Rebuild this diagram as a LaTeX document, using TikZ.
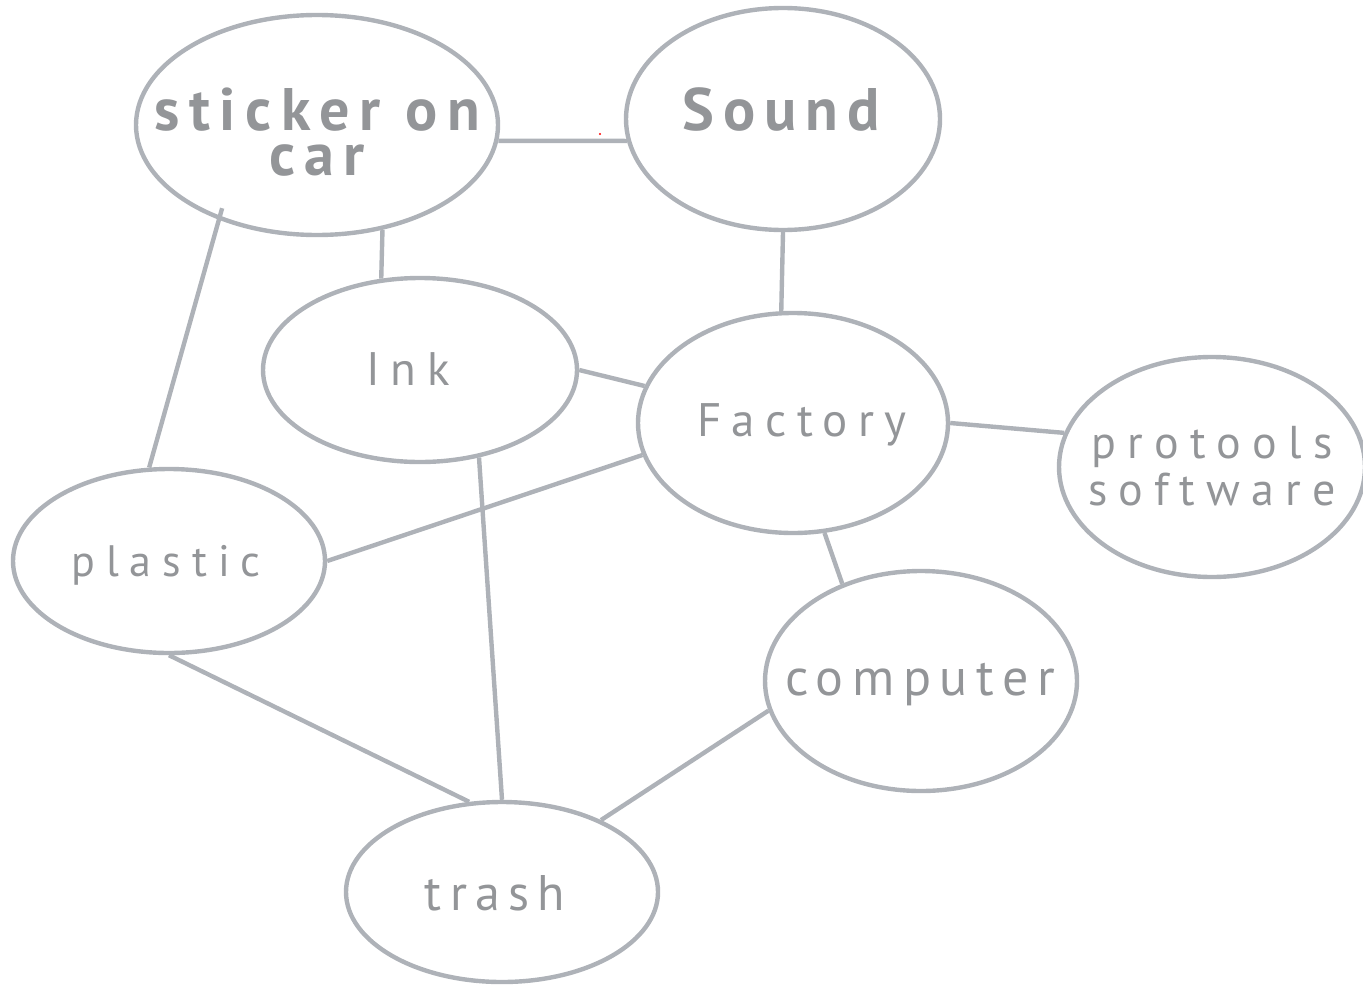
\documentclass[tikz,border=0pt]{standalone}
\usepackage{fontspec}
\setmainfont{PT Sans}
\newfontfamily\lblfont[LetterSpace=20]{PT Sans}
\newfontfamily\boldlbl[LetterSpace=16]{PT Sans Bold}
\usetikzlibrary{shapes.geometric}
\definecolor{txtgray}{HTML}{939598}
\definecolor{edgegray}{HTML}{AEB2B8}
\begin{document}
\begin{tikzpicture}[x=0.5pt,y=-0.5pt,
  bubble/.style={draw=edgegray, line width=2.2pt, ellipse, inner sep=0pt},
  link/.style={draw=edgegray, line width=2.2pt},
  lbl/.style={text=txtgray, inner sep=0pt, anchor=base, align=center}]
\useasboundingbox (0,0) rectangle (1363,985);
% bubbles
\node[bubble, minimum width=181pt, minimum height=110pt] (st) at (317,125) {};
\node[bubble, minimum width=157pt, minimum height=111pt] (so) at (783,119) {};
\node[bubble, minimum width=157pt, minimum height=92pt] (ink) at (420,370) {};
\node[bubble, minimum width=155pt, minimum height=110pt] (fa) at (793,423) {};
\node[bubble, minimum width=153pt, minimum height=110pt] (pt) at (1212,467) {};
\node[bubble, minimum width=156pt, minimum height=92pt] (pl) at (169,561) {};
\node[bubble, minimum width=156pt, minimum height=110pt] (co) at (921,681) {};
\node[bubble, minimum width=156pt, minimum height=90pt] (tr) at (502,892) {};
% labels (multi-line labels are placed by the baseline of their last line)
\node[lbl, font=\boldlbl\fontsize{30pt}{22.5pt}\selectfont] (stt) at (317,175) {sticker on\\car};
\node[lbl, font=\boldlbl\addfontfeature{LetterSpace=15}\fontsize{30pt}{30pt}\selectfont] (sot) at (781,130) {Sound};
\node[lbl, font=\lblfont\addfontfeature{LetterSpace=23}\fontsize{23.5pt}{28pt}\selectfont] (inkt) at (408,385) {Ink};
\node[lbl, font=\lblfont\addfontfeature{LetterSpace=22}\fontsize{23.5pt}{28pt}\selectfont] (fat) at (802,436) {Factory};
\node[lbl, font=\lblfont\addfontfeature{LetterSpace=24.5}\fontsize{23pt}{23.5pt}\selectfont] (ptt) at (1212,505) {protools\\software};
\node[lbl, font=\lblfont\addfontfeature{LetterSpace=25}\fontsize{22pt}{26pt}\selectfont] (plt) at (166,576) {plastic};
\node[lbl, font=\lblfont\addfontfeature{LetterSpace=16.5}\fontsize{26pt}{30pt}\selectfont] (cot) at (920,695) {computer};
\node[lbl, font=\lblfont\addfontfeature{LetterSpace=16.5}\fontsize{25pt}{30pt}\selectfont] (trt) at (495,910) {trash};
% connectors
\draw[link] (st.-5.7) -- (so.188);
\draw[link] (st.-58) -- (ink.113.5);
\draw[link, shorten >=-6pt] (pl.102.6) -- (st.224);
\draw[link] (so.270) -- (fa.96);
\draw[link] (ink.0) -- (fa.166);
\draw[link] (ink.-56.6) -- (tr.90);
\draw[link] (fa.192.8) -- (pl.0);
\draw[link] (fa.0) -- (pt.167.9);
\draw[link] (fa.-74.9) -- (co.129.8);
\draw[link] (pl.270) -- (tr.110.9);
\draw[link] (co.191.4) -- (tr.36.3);
% stray dot
\fill[red] (600,134) circle (1.2);
\end{tikzpicture}
\end{document}
